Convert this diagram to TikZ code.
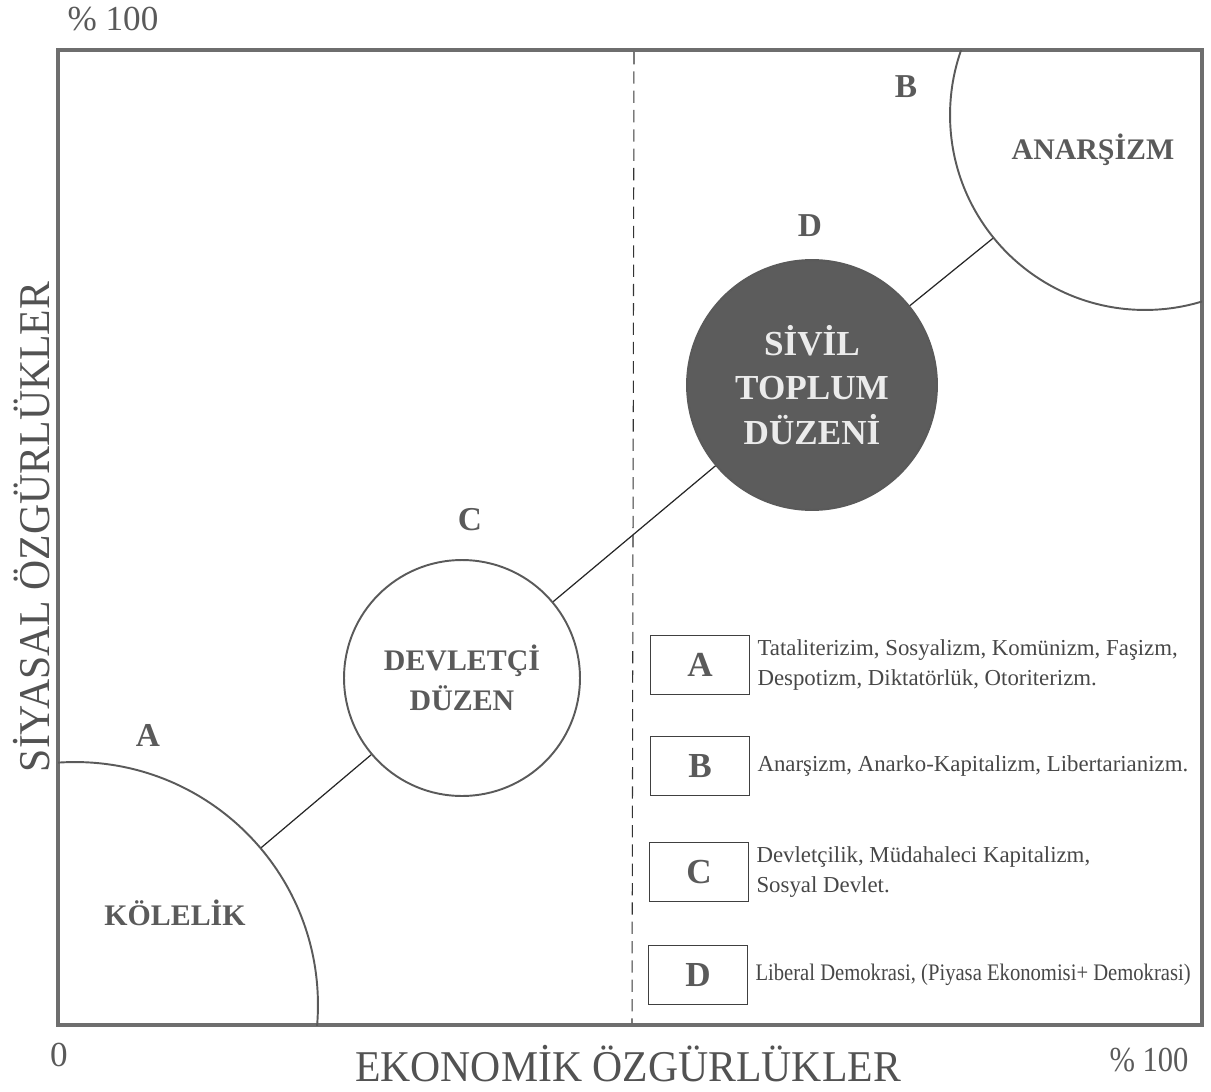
\documentclass[tikz,border=0pt]{standalone}
\usepackage{fontspec}
\setmainfont{Liberation Serif}
\newfontfamily\narrowserif[FakeStretch=0.87]{Liberation Serif}
\newfontfamily\axisserif[FakeStretch=0.95]{Liberation Serif}
\usepackage{tikz}
\usetikzlibrary{positioning}
\definecolor{inkgray}{HTML}{5A5A5A}
\definecolor{framegray}{HTML}{6E6E6E}
\definecolor{darkdisc}{HTML}{5C5C5C}

\begin{document}
\begin{tikzpicture}
[x=0.02cm, y=-0.02cm,
frame/.style={draw=framegray, line width=2.8pt},
region/.style={circle, draw=inkgray, line width=1.1pt, inner sep=0pt},
darkregion/.style={region, fill=darkdisc, text=white!92!black, font=\fontsize{20}{25.5}\selectfont\bfseries, align=center},
title/.style={text=inkgray, font=\fontsize{17}{22.5}\selectfont\bfseries, align=center},
tag/.style={text=inkgray, font=\fontsize{19}{22}\selectfont\bfseries},
key/.style={rectangle, draw=black!75, line width=0.8pt, minimum width=1.98cm, minimum height=1.18cm, text=inkgray, font=\fontsize{20}{22}\selectfont\bfseries},
keytext/.style={text=black!72, font=\fontsize{13}{17}\selectfont, align=left, inner sep=0pt},
axis/.style={text=black!68, font=\fontsize{25}{28}\selectfont\axisserif},
percent/.style={text=inkgray, font=\fontsize{20}{24}\selectfont},
link/.style={draw=black!85, line width=0.7pt}
]
\useasboundingbox (0,0) rectangle (1211,1092);

%Frame
\draw[frame] (58,50) rectangle (1202,1025);
\coordinate (dtop) at (634,52);
\coordinate (dbot) at (632,1023);
\draw[dashed, black!80, line width=0.6pt, dash pattern=on 7pt off 4pt] (dtop) -- (dbot);

%Nodes
\begin{scope}
\clip (58,50) rectangle (1202,1025);
\node[region, minimum size=9.72cm] (kole)   at (75,1005) {};
\node[region, minimum size=7.8cm]  (anarsi) at (1145,115) {};
\end{scope}
\node[region, title, minimum size=4.72cm] (devlet) at (462,678) {DEVLETÇİ\\DÜZEN};
\node[darkregion, minimum size=5cm]       (sivil)  at (812,385) {SİVİL\\TOPLUM\\DÜZENİ};
\node[title] (koletext)  at (175,913)  {KÖLELİK};
\node[title] (anartext)  at (1093,150) {ANARŞİZM};

\node[tag] (tagA) at (148,735) {A};
\node[tag] (tagB) at (906,87)  {B};
\node[tag] (tagC) at (470,520) {C};
\node[tag] (tagD) at (810,226) {D};

%Legend
\node[key] (keyA) at (700,665) {A};
\node[key] (keyB) at (700,766) {B};
\node[key] (keyC) at (699,872) {C};
\node[key] (keyD) at (698,975) {D};
\node[keytext, right=0.14cm of keyA] (txtA) {Tataliterizim, Sosyalizm, Komünizm, Faşizm,\\Despotizm, Diktatörlük, Otoriterizm.};
\node[keytext, right=0.14cm of keyB] (txtB) {Anarşizm, Anarko-Kapitalizm, Libertarianizm.};
\node[keytext, right=0.14cm of keyC] (txtC) {Devletçilik, Müdahaleci Kapitalizm,\\Sosyal Devlet.};
\node[keytext, right=0.14cm of keyD] (txtD) {\narrowserif\fontsize{13.5}{17}\selectfont Liberal Demokrasi, (Piyasa Ekonomisi+ Demokrasi)};

%Axes
\node[percent] (ytop)  at (113,19)   {\% 100};
\node[percent] (xzero) at (59,1055)  {0};
\node[percent] (xtop)  at (1149,1060) {\narrowserif\% 100};
\node[axis] (xaxis) at (628,1064) {EKONOMİK ÖZGÜRLÜKLER};
\node[axis, rotate=90] (yaxis) at (32,527) {SİYASAL ÖZGÜRLÜKLER};

%Lines
\path[link] (kole) -- (devlet)
            (devlet) -- (sivil)
            (sivil) -- (anarsi);

\end{tikzpicture}
\end{document}
